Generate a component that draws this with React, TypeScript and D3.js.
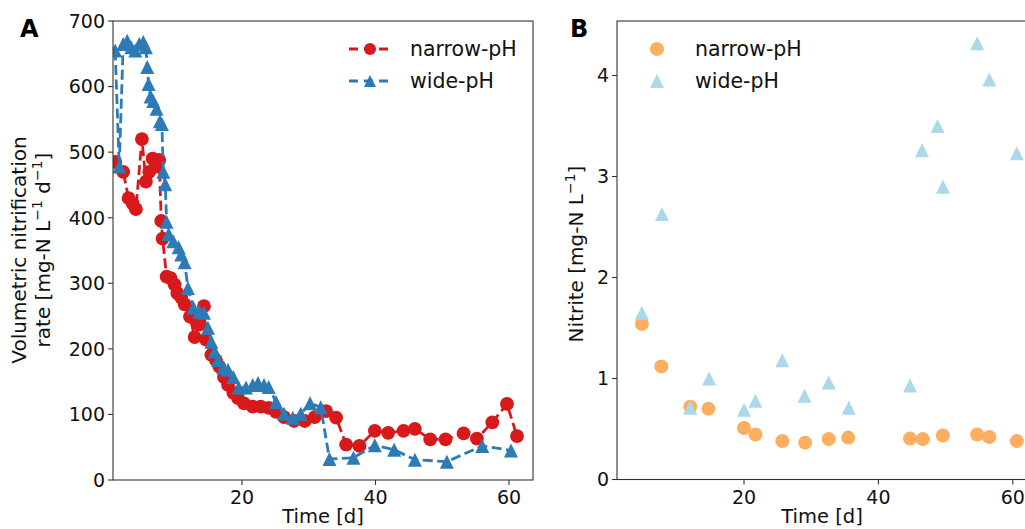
import React from "react";
import * as d3 from "d3";

// ---- Panel A: volumetric nitrification rate ----
const narrowA_t = [1.0, 2.2, 3.0, 3.6, 4.1, 5.0, 5.6, 6.1, 6.6, 7.2, 7.6, 7.9, 8.1, 8.7, 9.3, 9.9, 10.3, 10.9, 11.4, 12.2, 12.9, 13.6, 14.3, 14.6, 15.4, 16.1, 16.6, 17.3, 17.9, 18.7, 19.4, 20.3, 21.6, 22.8, 24.0, 25.1, 26.3, 27.8, 29.4, 30.9, 32.6, 34.1, 35.6, 37.6, 39.9, 41.9, 44.2, 45.9, 48.2, 50.5, 53.2, 55.2, 57.5, 59.7, 61.2];
const narrowA_v = [485, 470, 430, 422, 413, 520, 455, 470, 490, 478, 488, 395, 368, 310, 308, 298, 285, 278, 268, 249, 218, 237, 265, 214, 191, 183, 173, 157, 145, 133, 125, 117, 112, 112, 110, 104, 96, 90, 90, 96, 105, 95, 54, 52, 75, 72, 75, 78, 62, 62, 71, 63, 88, 116, 67];

const wideA_t = [1.0, 1.6, 2.2, 2.8, 3.4, 4.0, 4.6, 5.2, 5.6, 5.8, 6.0, 6.3, 6.7, 7.2, 7.7, 8.0, 8.2, 8.5, 8.7, 9.0, 9.7, 10.5, 10.9, 11.4, 11.9, 12.7, 13.6, 14.3, 14.9, 15.4, 15.9, 16.4, 17.2, 17.9, 18.7, 19.5, 20.6, 21.6, 22.4, 23.3, 24.0, 25.1, 26.3, 27.6, 28.8, 30.2, 31.8, 33.1, 36.7, 39.9, 42.8, 45.9, 50.7, 56.0, 60.3];
const wideA_v = [655, 478, 665, 670, 660, 655, 665, 668, 660, 630, 604, 585, 578, 566, 547, 543, 470, 451, 394, 375, 364, 355, 344, 332, 293, 263, 257, 255, 232, 211, 196, 183, 171, 168, 157, 141, 141, 145, 148, 145, 142, 119, 101, 95, 101, 117, 111, 32, 34, 53, 46, 31, 28, 52, 45];

// ---- Panel B: nitrite ----
const narrowB_t = [4.8, 7.7, 12.0, 14.7, 20.0, 21.7, 25.7, 29.1, 32.6, 35.5, 44.7, 46.6, 49.6, 54.7, 56.5, 60.6];
const narrowB_v = [1.54, 1.12, 0.72, 0.70, 0.51, 0.445, 0.38, 0.365, 0.40, 0.415, 0.405, 0.40, 0.435, 0.445, 0.42, 0.38];

const wideB_t = [4.8, 7.8, 12.0, 14.8, 20.0, 21.7, 25.7, 29.0, 32.6, 35.6, 44.7, 46.5, 48.8, 49.6, 54.7, 56.5, 60.6];
const wideB_v = [1.65, 2.63, 0.71, 1.0, 0.69, 0.78, 1.18, 0.83, 0.96, 0.71, 0.93, 3.26, 3.50, 2.90, 4.32, 3.96, 3.23];

const ticksA_x = [20, 40, 60];
const ticksA_y = [0, 100, 200, 300, 400, 500, 600, 700];
const ticksB_x = [20, 40, 60];
const ticksB_y = [0, 1, 2, 3, 4];

const seriesNames = ["narrow-pH", "wide-pH"];

const RED = "#d7191c";
const BLUE = "#2c7bb6";
const ORANGE = "#fdae61";
const LIGHTBLUE = "#abd9e9";
const FONT = "DejaVu Sans, sans-serif";
const AXC = "#333";
const TICK_FS = 19;
const LABEL_FS = 19.5;
const LEG_FS = 20.5;

const tri = (m: number) => `M0,${-m / 2}L${m / 2},${m / 2}L${-m / 2},${m / 2}Z`;

function Axes({ xs, ys, xt, yt, yfmt }: any) {
  const [x0, x1] = xs.range();
  const [y0, y1] = ys.range();
  return (
    <g>
      <rect x={x0} y={y1} width={x1 - x0} height={y0 - y1} fill="none" stroke={AXC} strokeWidth={1.1} />
      {xt.map((t: number) => (
        <g key={"x" + t}>
          <line x1={xs(t)} x2={xs(t)} y1={y0} y2={y0 + 5} stroke={AXC} strokeWidth={1.1} />
          <text x={xs(t)} y={y0 + 24} textAnchor="middle" fontSize={TICK_FS} fontFamily={FONT} fill="#111">{t}</text>
        </g>
      ))}
      {yt.map((t: number) => (
        <g key={"y" + t}>
          <line x1={x0} x2={x0 - 5} y1={ys(t)} y2={ys(t)} stroke={AXC} strokeWidth={1.1} />
          <text x={x0 - 8} y={ys(t)} dy="0.36em" textAnchor="end" fontSize={TICK_FS} fontFamily={FONT} fill="#111">{yfmt(t)}</text>
        </g>
      ))}
    </g>
  );
}

export default function App() {
  const xA = d3.scaleLinear().domain([0.67, 63.6]).range([113, 533]);
  const yA = d3.scaleLinear().domain([0, 700]).range([480, 21]);
  const xB = d3.scaleLinear().domain([1.1, 63.6]).range([617, 1037]);
  const yB = d3.scaleLinear().domain([0, 4.54]).range([479.5, 21]);

  const line = (ts: number[], vs: number[]) =>
    d3.line<number>().x((_, i) => xA(ts[i])).y((_, i) => yA(vs[i]))(ts) || "";

  const dash = "10,4.5";

  return (
    <svg width={1025} height={529} style={{ display: "block", position: "absolute", left: 0, top: 0 }}>
      <rect width={1025} height={529} fill="#fff" />
      <defs>
        <clipPath id="clipA"><rect x={113} y={21} width={420} height={459} /></clipPath>
        <clipPath id="clipB"><rect x={617} y={21} width={420} height={459} /></clipPath>
      </defs>

      {/* Panel A */}
      <g clipPath="url(#clipA)">
        <path d={line(narrowA_t, narrowA_v)} fill="none" stroke={RED} strokeWidth={2.8} strokeDasharray={dash} />
        {narrowA_t.map((t, i) => (
          <circle key={"na" + i} cx={xA(t)} cy={yA(narrowA_v[i])} r={6.9} fill={RED} />
        ))}
        <path d={line(wideA_t, wideA_v)} fill="none" stroke={BLUE} strokeWidth={2.8} strokeDasharray={dash} />
        {wideA_t.map((t, i) => (
          <path key={"wa" + i} d={tri(14)} transform={`translate(${xA(t)},${yA(wideA_v[i])})`} fill={BLUE} />
        ))}
      </g>
      <Axes xs={xA} ys={yA} xt={ticksA_x} yt={ticksA_y} yfmt={(d: number) => String(d)} />

      {/* Legend A */}
      <g fontFamily={FONT} fontSize={LEG_FS} fill="#111">
        <line x1={349} x2={391} y1={49} y2={49} stroke={RED} strokeWidth={2.8} strokeDasharray="9,6" />
        <circle cx={370} cy={49} r={6} fill={RED} />
        <text x={410} y={49} dy="0.36em">{seriesNames[0]}</text>
        <line x1={349} x2={391} y1={81} y2={81} stroke={BLUE} strokeWidth={2.8} strokeDasharray="9,6" />
        <path d={tri(12)} transform="translate(370,81)" fill={BLUE} />
        <text x={410} y={81} dy="0.36em">{seriesNames[1]}</text>
      </g>

      <text x={20} y={37} fontFamily={FONT} fontSize={24} fontWeight="bold" fill="#000">A</text>
      <text transform="translate(26,250) rotate(-90)" textAnchor="middle" fontFamily={FONT} fontSize={LABEL_FS + 0.5} fill="#111">Volumetric nitrification</text>
      <text transform="translate(50,250) rotate(-90)" textAnchor="middle" fontFamily={FONT} fontSize={LABEL_FS + 0.5} fill="#111">
        rate [mg-N L<tspan fontSize={14} dy={-8}>−1</tspan><tspan dy={8}> d</tspan><tspan fontSize={14} dy={-8}>−1</tspan><tspan dy={8}>]</tspan>
      </text>
      <text x={323} y={523} textAnchor="middle" fontFamily={FONT} fontSize={LABEL_FS} fill="#111">Time [d]</text>

      {/* Panel B */}
      <g clipPath="url(#clipB)">
        {narrowB_t.map((t, i) => (
          <circle key={"nb" + i} cx={xB(t)} cy={yB(narrowB_v[i])} r={7} fill={ORANGE} />
        ))}
        {wideB_t.map((t, i) => (
          <path key={"wb" + i} d={tri(14)} transform={`translate(${xB(t)},${yB(wideB_v[i])})`} fill={LIGHTBLUE} />
        ))}
      </g>
      <Axes xs={xB} ys={yB} xt={ticksB_x} yt={ticksB_y} yfmt={(d: number) => String(d)} />

      {/* Legend B */}
      <g fontFamily={FONT} fontSize={LEG_FS} fill="#111">
        <circle cx={657} cy={49} r={7} fill={ORANGE} />
        <text x={695} y={49} dy="0.36em">{seriesNames[0]}</text>
        <path d={tri(14)} transform="translate(657,81)" fill={LIGHTBLUE} />
        <text x={695} y={81} dy="0.36em">{seriesNames[1]}</text>
      </g>

      <text x={570} y={37} fontFamily={FONT} fontSize={24} fontWeight="bold" fill="#000">B</text>
      <text transform="translate(583,254) rotate(-90)" textAnchor="middle" fontFamily={FONT} fontSize={LABEL_FS + 0.5} fill="#111">
        Nitrite [mg-N L<tspan fontSize={14} dy={-8}>−1</tspan><tspan dy={8}>]</tspan>
      </text>
      <text x={822} y={523} textAnchor="middle" fontFamily={FONT} fontSize={LABEL_FS} fill="#111">Time [d]</text>
    </svg>
  );
}
